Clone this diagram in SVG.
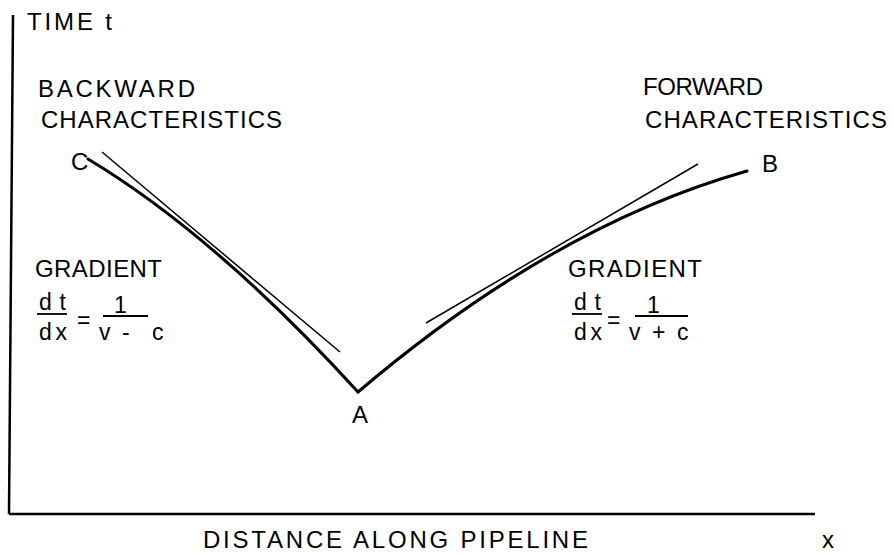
<svg xmlns="http://www.w3.org/2000/svg" width="894" height="555" viewBox="0 0 894 555">
<style>
text{font-family:"Liberation Sans","DejaVu Sans",sans-serif;font-size:24px;fill:#000}
.f{font-size:23px}
.axis{stroke:#000;stroke-width:2.5;fill:none}
.thick{stroke:#000;stroke-width:3;fill:none;stroke-linecap:round}
.thin{stroke:#000;stroke-width:1.5;fill:none}
.bar{stroke:#000;stroke-width:1.8}
</style>
<rect width="894" height="555" fill="#fff"/>
<g id="axes">
<line class="axis" x1="13" y1="15" x2="9" y2="514"/>
<line class="axis" x1="9" y1="514" x2="815" y2="514"/>
<text x="27" y="30" textLength="85" lengthAdjust="spacing">TIME t</text>
<text x="203" y="548" textLength="385" lengthAdjust="spacing">DISTANCE ALONG PIPELINE</text>
<text x="822" y="548">x</text>
</g>
<g id="connectors">
<path class="thick" d="M88,159 Q216,236 358,392"/>
<path class="thick" d="M358,392 Q553,226 747,171"/>
<line class="thin" x1="102" y1="152" x2="340" y2="352"/>
<line class="thin" x1="426" y1="323" x2="698" y2="164"/>
</g>
<g id="node-A"><text x="352" y="423">A</text></g>
<g id="node-B"><text x="762" y="172">B</text></g>
<g id="node-C"><text x="71" y="170">C</text></g>
<g id="label-backward">
<text x="38" y="97" textLength="157" lengthAdjust="spacing">BACKWARD</text>
<text x="41" y="128" textLength="241" lengthAdjust="spacing">CHARACTERISTICS</text>
</g>
<g id="label-forward">
<text x="643" y="95" textLength="120" lengthAdjust="spacing">FORWARD</text>
<text x="645" y="128" textLength="242" lengthAdjust="spacing">CHARACTERISTICS</text>
</g>
<g id="gradient-left">
<text x="35" y="277" textLength="127" lengthAdjust="spacing">GRADIENT</text>
<text class="f" x="39" y="310" textLength="27" lengthAdjust="spacing">dt</text>
<line class="bar" x1="37" y1="314" x2="67" y2="314"/>
<text class="f" x="39" y="340" textLength="28" lengthAdjust="spacing">dx</text>
<text class="f" x="77" y="328">=</text>
<text class="f" x="114" y="313">1</text>
<line class="bar" x1="103" y1="316" x2="148" y2="316"/>
<text class="f" x="99" y="340">v</text>
<text class="f" x="122" y="340">-</text>
<text class="f" x="152" y="340">c</text>
</g>
<g id="gradient-right">
<text x="568" y="277" textLength="134" lengthAdjust="spacing">GRADIENT</text>
<text class="f" x="574" y="310" textLength="27" lengthAdjust="spacing">dt</text>
<line class="bar" x1="572" y1="314" x2="602" y2="314"/>
<text class="f" x="574" y="340" textLength="28" lengthAdjust="spacing">dx</text>
<text class="f" x="607" y="328">=</text>
<text class="f" x="647" y="313">1</text>
<line class="bar" x1="635" y1="316" x2="688" y2="316"/>
<text class="f" x="629" y="340">v</text>
<text class="f" x="652" y="340">+</text>
<text class="f" x="677" y="340">c</text>
</g>
</svg>
